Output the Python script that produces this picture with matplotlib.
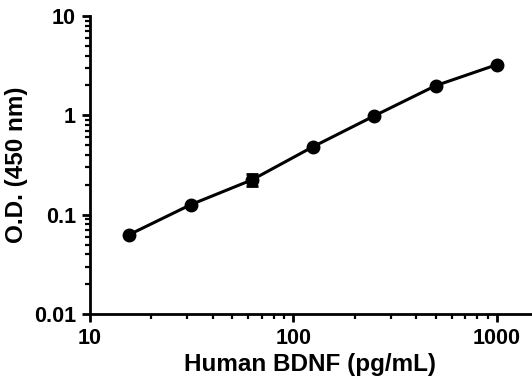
import matplotlib

matplotlib.use("Agg")
import matplotlib.pyplot as plt
from matplotlib.ticker import FixedLocator, LogLocator, NullFormatter


# BDNF standard curve values
conc = [15.6, 31.25, 62.5, 125, 250, 500, 1000]
od = [0.063, 0.126, 0.224, 0.484, 0.99, 1.99, 3.24]
od_err = [0.0, 0.0, 0.03, 0.0, 0.0, 0.0, 0.0]

x_ticks = [10, 100, 1000]
x_tick_labels = ["10", "100", "1000"]
y_ticks = [0.01, 0.1, 1, 10]
y_tick_labels = ["0.01", "0.1", "1", "10"]


def main():
    plt.rcParams["font.family"] = ["Liberation Sans", "DejaVu Sans"]
    plt.rcParams["font.weight"] = "bold"

    fig = plt.figure(figsize=(5.32, 3.88), dpi=100)
    ax = fig.add_axes([90 / 532, 1 - 314 / 388, 441 / 532, 298 / 388])

    ax.plot(conc, od, color="black", linewidth=2.2, zorder=2)
    ax.errorbar(
        conc,
        od,
        yerr=od_err,
        fmt="o",
        color="black",
        markersize=9,
        elinewidth=2,
        capsize=4,
        capthick=2,
        zorder=3,
    )

    ax.set_xscale("log")
    ax.set_yscale("log")
    ax.set_xlim(10, 1470)
    ax.set_ylim(0.01, 10)

    ax.xaxis.set_major_locator(FixedLocator(x_ticks))
    ax.set_xticklabels(x_tick_labels)
    ax.yaxis.set_major_locator(FixedLocator(y_ticks))
    ax.set_yticklabels(y_tick_labels)
    ax.xaxis.set_minor_locator(LogLocator(base=10, subs=range(2, 10)))
    ax.yaxis.set_minor_locator(LogLocator(base=10, subs=range(2, 10)))
    ax.xaxis.set_minor_formatter(NullFormatter())
    ax.yaxis.set_minor_formatter(NullFormatter())

    for side in ["top", "right"]:
        ax.spines[side].set_visible(False)
    for side in ["left", "bottom"]:
        ax.spines[side].set_linewidth(2)
        ax.spines[side].set_color("black")

    ax.tick_params(which="major", direction="out", length=6, width=2, labelsize=15.5, pad=4)
    ax.tick_params(which="minor", direction="out", length=3.5, width=1.6)

    ax.set_xlabel("Human BDNF (pg/mL)", fontsize=17.5, fontweight="bold", labelpad=3)
    ax.set_ylabel("O.D. (450 nm)", fontsize=17.5, fontweight="bold", labelpad=4)

    fig.savefig("out.png", dpi=100)


if __name__ == "__main__":
    main()
